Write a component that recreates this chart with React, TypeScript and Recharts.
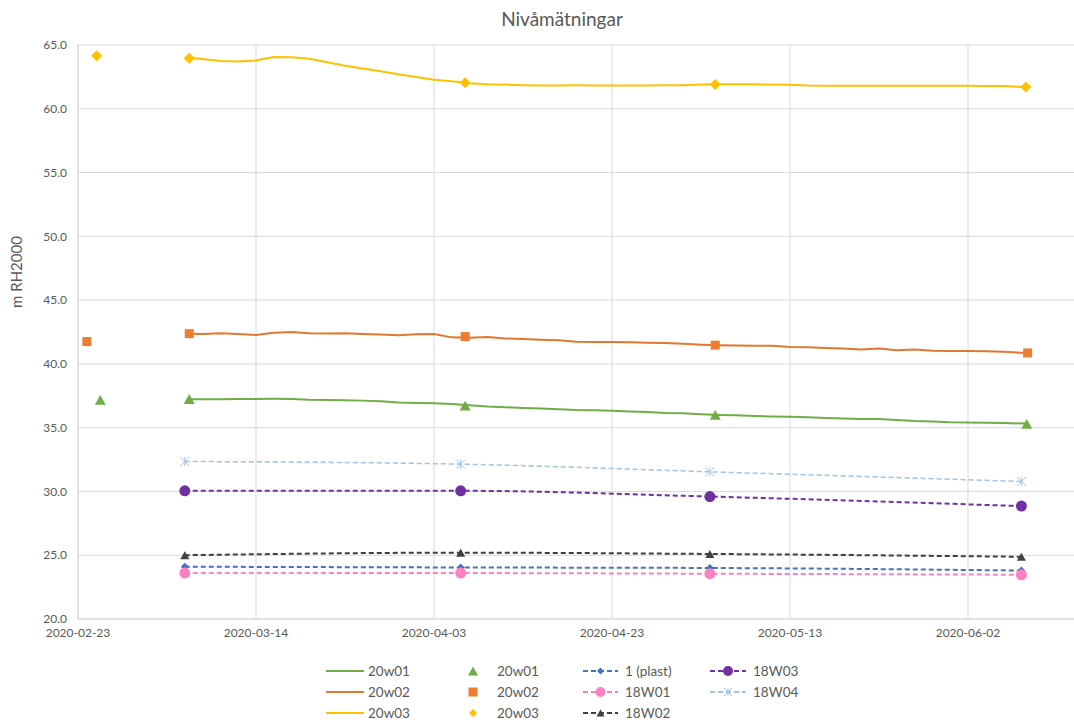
import React from 'react';
import { LineChart, Line, XAxis, YAxis, CartesianGrid, Label } from 'recharts';

// Day 0 = 2020-02-23
const START = Date.UTC(2020, 1, 23);
const xTicks = [0, 20, 40, 60, 80, 100];
const yTicks = [20, 25, 30, 35, 40, 45, 50, 55, 60, 65];

// logger readings (continuous lines)
const loggerDays = [
  12.5, 14, 16, 18, 20, 22, 24, 26, 28, 30, 32, 34, 36, 38, 40, 42, 44, 46, 48, 50, 52, 54, 56, 58,
  60, 62, 64, 66, 68, 70, 72, 74, 76, 78, 80, 82, 84, 86, 88, 90, 92, 94, 96, 98, 100, 102, 104, 106.5,
];
const w01Logger = [
  37.23, 37.23, 37.23, 37.24, 37.24, 37.26, 37.25, 37.19, 37.17, 37.15, 37.12, 37.07, 36.98, 36.94,
  36.92, 36.85, 36.76, 36.65, 36.6, 36.55, 36.5, 36.45, 36.38, 36.37, 36.33, 36.27, 36.22, 36.15,
  36.13, 36.05, 36.0, 35.98, 35.92, 35.87, 35.85, 35.82, 35.76, 35.72, 35.67, 35.67, 35.6, 35.52,
  35.48, 35.42, 35.4, 35.38, 35.36, 35.32,
];
const w02Logger = [
  42.37, 42.35, 42.4, 42.35, 42.27, 42.45, 42.5, 42.4, 42.38, 42.4, 42.35, 42.3, 42.25, 42.33,
  42.35, 42.08, 42.05, 42.1, 42.0, 41.95, 41.9, 41.85, 41.74, 41.72, 41.72, 41.7, 41.65, 41.63,
  41.57, 41.5, 41.46, 41.44, 41.43, 41.42, 41.33, 41.3, 41.25, 41.2, 41.12, 41.2, 41.06, 41.12,
  41.03, 41.02, 41.02, 41.0, 40.95, 40.86,
];
const w03Logger = [
  64.0, 63.9, 63.75, 63.7, 63.78, 64.05, 64.03, 63.92, 63.65, 63.38, 63.15, 62.95, 62.7, 62.5,
  62.28, 62.15, 62.0, 61.93, 61.9, 61.85, 61.82, 61.83, 61.84, 61.82, 61.82, 61.82, 61.83, 61.84,
  61.85, 61.9, 61.92, 61.92, 61.92, 61.9, 61.88, 61.82, 61.8, 61.8, 61.8, 61.8, 61.8, 61.8, 61.8,
  61.8, 61.8, 61.78, 61.78, 61.7,
];

// manual soundings in the new wells
const w01ManualDays = [2.5, 12.5, 43.5, 71.6, 106.6];
const w01Manual = [37.18, 37.25, 36.73, 36.0, 35.3];
const w02ManualDays = [1.0, 12.5, 43.5, 71.6, 106.7];
const w02Manual = [41.75, 42.37, 42.14, 41.47, 40.86];
const w03ManualDays = [2.1, 12.5, 43.5, 71.6, 106.5];
const w03Manual = [64.16, 63.96, 62.05, 61.9, 61.7];

// older wells
const oldDays = [12, 43, 71, 106];
const plast1 = [24.1, 24.04, 24.0, 23.8];
const w18_01 = [23.6, 23.6, 23.55, 23.47];
const w18_02 = [25.0, 25.2, 25.1, 24.88];
const w18_03 = [30.05, 30.05, 29.6, 28.85];
const w18_04 = [32.35, 32.14, 31.54, 30.78];

const toRows = (days: number[], vals: number[]) => days.map((day, i) => ({ day, v: vals[i] }));

const fmtDate = (d: number) => new Date(START + d * 86400000).toISOString().slice(0, 10);

const FONT = 'Lato, "DejaVu Sans", sans-serif';
const TEXT = '#595959';

type Shape = 'triangle' | 'square' | 'diamond' | 'circle' | 'star';

function Marker({ cx, cy, shape, color, size }: { cx?: number; cy?: number; shape: Shape; color: string; size: number }) {
  if (cx == null || cy == null) return null;
  const h = size / 2;
  switch (shape) {
    case 'triangle':
      return <polygon points={`${cx - h},${cy + h * 0.9} ${cx + h},${cy + h * 0.9} ${cx},${cy - h * 0.9}`} fill={color} />;
    case 'square':
      return <rect x={cx - h} y={cy - h} width={size} height={size} fill={color} />;
    case 'diamond':
      return <polygon points={`${cx},${cy - h} ${cx + h},${cy} ${cx},${cy + h} ${cx - h},${cy}`} fill={color} />;
    case 'circle':
      return <circle cx={cx} cy={cy} r={h} fill={color} />;
    case 'star':
      return (
        <g stroke={color} strokeWidth={1}>
          <line x1={cx - h} y1={cy - h} x2={cx + h} y2={cy + h} />
          <line x1={cx - h} y1={cy + h} x2={cx + h} y2={cy - h} />
          <line x1={cx} y1={cy - h} x2={cx} y2={cy + h} />
        </g>
      );
  }
  return null;
}

const dotFn = (name: string, shape: Shape, color: string, size: number) => (p: any) => (
  <Marker key={`${name}-${p.index}`} cx={p.cx} cy={p.cy} shape={shape} color={color} size={size} />
);

interface Item {
  label: string;
  color: string;
  line?: 'solid' | 'dashed';
  shape?: Shape;
  size?: number;
}

const legendCols: Item[][] = [
  [
    { label: '20w01', color: '#70AD47', line: 'solid' },
    { label: '20w02', color: '#E0782F', line: 'solid' },
    { label: '20w03', color: '#FFC000', line: 'solid' },
  ],
  [
    { label: '20w01', color: '#70AD47', shape: 'triangle', size: 10 },
    { label: '20w02', color: '#ED7D31', shape: 'square', size: 9 },
    { label: '20w03', color: '#FFC000', shape: 'diamond', size: 8 },
  ],
  [
    { label: '1 (plast)', color: '#4472C4', line: 'dashed', shape: 'diamond', size: 7 },
    { label: '18W01', color: '#FF80C0', line: 'dashed', shape: 'circle', size: 10 },
    { label: '18W02', color: '#404040', line: 'dashed', shape: 'triangle', size: 8 },
  ],
  [
    { label: '18W03', color: '#7030A0', line: 'dashed', shape: 'circle', size: 10 },
    { label: '18W04', color: '#9DC3E6', line: 'dashed', shape: 'star', size: 8 },
  ],
];
const colX = [[326, 368], [473, 497], [583, 625], [710, 753]];
const rowY = [671, 692, 713];

function LegendBlock() {
  return (
    <svg width={1074} height={722} style={{ position: 'absolute', left: 0, top: 0, pointerEvents: 'none' }}>
      {legendCols.map((col, ci) =>
        col.map((it, ri) => {
          const y = rowY[ri];
          const [x0, tx] = colX[ci];
          const lineEnd = ci === 0 ? 364 : tx - 7;
          return (
            <g key={`${ci}-${ri}`}>
              {it.line && (
                <line
                  x1={x0}
                  y1={y}
                  x2={lineEnd}
                  y2={y}
                  stroke={it.color}
                  strokeWidth={2}
                  strokeDasharray={it.line === 'dashed' ? '5 3' : undefined}
                />
              )}
              {it.shape && (
                <Marker cx={ci === 1 ? x0 : (x0 + lineEnd) / 2} cy={y} shape={it.shape} color={it.color} size={it.size || 8} />
              )}
              <text x={tx} y={y + 4.5} fontSize={13.5} fill={TEXT} fontFamily={FONT}>
                {it.label}
              </text>
            </g>
          );
        })
      )}
    </svg>
  );
}

export default function App() {
  return (
    <div style={{ position: 'absolute', left: 0, top: 0, width: 1074, height: 722, overflow: 'hidden', background: '#fff' }}>
      <div
        style={{
          position: 'absolute',
          left: 0,
          top: 7,
          width: 1124,
          textAlign: 'center',
          fontFamily: FONT,
          fontSize: 19,
          color: TEXT,
        }}
      >
        Nivåmätningar
      </div>
      <LineChart width={1160} height={722} margin={{ top: 45, right: 14, left: 0, bottom: 73 }}>
        <CartesianGrid stroke="#D9D9D9" strokeWidth={1} />
        <XAxis
          type="number"
          dataKey="day"
          domain={[0, 120]}
          ticks={xTicks}
          allowDataOverflow
          tickFormatter={fmtDate}
          height={30}
          tickLine={false}
          axisLine={{ stroke: '#D9D9D9' }}
          tickMargin={3}
          tick={{ fontSize: 12, fill: TEXT, fontFamily: FONT }}
        />
        <YAxis
          type="number"
          domain={[20, 65]}
          ticks={yTicks}
          width={78}
          tickLine={false}
          axisLine={{ stroke: '#D9D9D9' }}
          tickMargin={5}
          tickFormatter={(v: number) => v.toFixed(1)}
          tick={{ fontSize: 12, fill: TEXT, fontFamily: FONT }}
        >
          <Label
            content={() => (
              <text x={22} y={272} transform="rotate(-90 22 272)" textAnchor="middle" fontSize={15} fill={TEXT} fontFamily={FONT}>
                m RH2000
              </text>
            )}
          />
        </YAxis>

        <Line data={toRows(loggerDays, w01Logger)} dataKey="v" stroke="#70AD47" strokeWidth={2} dot={false} type="linear" isAnimationActive={false} />
        <Line data={toRows(loggerDays, w02Logger)} dataKey="v" stroke="#E0782F" strokeWidth={2} dot={false} type="linear" isAnimationActive={false} />
        <Line data={toRows(loggerDays, w03Logger)} dataKey="v" stroke="#FFC000" strokeWidth={2} dot={false} type="linear" isAnimationActive={false} />

        <Line data={toRows(oldDays, w18_04)} dataKey="v" stroke="#9DC3E6" strokeWidth={1.5} strokeDasharray="5 3" type="monotone" dot={dotFn('w4', 'star', '#9DC3E6', 9)} isAnimationActive={false} />
        <Line data={toRows(oldDays, w18_03)} dataKey="v" stroke="#7030A0" strokeWidth={2} strokeDasharray="5 3" type="monotone" dot={dotFn('w3', 'circle', '#7030A0', 11)} isAnimationActive={false} />
        <Line data={toRows(oldDays, w18_02)} dataKey="v" stroke="#404040" strokeWidth={2} strokeDasharray="5 3" type="monotone" dot={dotFn('w2', 'triangle', '#404040', 9)} isAnimationActive={false} />
        <Line data={toRows(oldDays, plast1)} dataKey="v" stroke="#4472C4" strokeWidth={2} strokeDasharray="5 3" type="monotone" dot={dotFn('p1', 'diamond', '#4472C4', 8)} isAnimationActive={false} />
        <Line data={toRows(oldDays, w18_01)} dataKey="v" stroke="#FF80C0" strokeWidth={2} strokeDasharray="5 3" type="monotone" dot={dotFn('w1', 'circle', '#FF80C0', 11)} isAnimationActive={false} />

        <Line data={toRows(w01ManualDays, w01Manual)} dataKey="v" stroke="none" dot={dotFn('m1', 'triangle', '#70AD47', 11)} isAnimationActive={false} />
        <Line data={toRows(w02ManualDays, w02Manual)} dataKey="v" stroke="none" dot={dotFn('m2', 'square', '#ED7D31', 9)} isAnimationActive={false} />
        <Line data={toRows(w03ManualDays, w03Manual)} dataKey="v" stroke="none" dot={dotFn('m3', 'diamond', '#FFC000', 11)} isAnimationActive={false} />
      </LineChart>
      <LegendBlock />
    </div>
  );
}
